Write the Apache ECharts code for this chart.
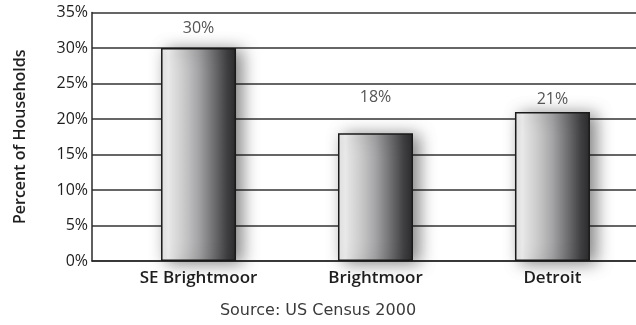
<!DOCTYPE html>
<html>
<head>
<meta charset="utf-8">
<script src="https://cdn.jsdelivr.net/npm/echarts@6/dist/echarts.min.js"></script>
<style>
  html, body { margin: 0; padding: 0; background: #fff; }
  #chart { width: 636px; height: 325px; }
</style>
</head>
<body>
<div id="chart"></div>
<script>
// Share of households by area
const categories = ['SE Brightmoor', 'Brightmoor', 'Detroit'];
const percentValues = [30, 18, 21];
const yTicks = [0, 5, 10, 15, 20, 25, 30, 35];
const sourceNote = 'Source: US Census 2000';

// Space between each value label and the top of its bar (px)
const labelGap = [12, 28, 4];

const chart = echarts.init(document.getElementById('chart'), null, { renderer: 'canvas' });

const barFill = new echarts.graphic.LinearGradient(0, 0, 1, 0, [
  { offset: 0, color: '#e6e6e6' },
  { offset: 0.1, color: '#f3f3f3' },
  { offset: 0.5, color: '#a4a4a6' },
  { offset: 0.88, color: '#404042' },
  { offset: 1, color: '#2c2c2e' }
]);

const seriesData = percentValues.map((v, i) => ({
  value: [i, v],
  label: { distance: labelGap[i] }
}));

chart.setOption({
  animation: false,
  backgroundColor: '#ffffff',
  grid: { left: 92, right: 0, top: 12.5, bottom: 64, containLabel: false },
  xAxis: {
    type: 'value',
    min: -0.602,
    max: 2.472,
    splitLine: { show: false },
    axisLine: { show: true, onZero: false, lineStyle: { color: '#2a2a2a', width: 1.5 } },
    axisTick: { show: false },
    axisLabel: {
      customValues: [0, 1, 2],
      formatter: (v) => categories[Math.round(v)],
      margin: 9,
      fontFamily: 'Open Sans',
      fontSize: 17,
      fontWeight: 600,
      color: '#1e1e1e'
    }
  },
  yAxis: {
    type: 'value',
    min: 0,
    max: 35,
    interval: 5,
    name: 'Percent of Households',
    nameLocation: 'middle',
    nameGap: 64,
    nameTextStyle: { fontFamily: 'Open Sans', fontSize: 16, fontWeight: 600, color: '#1e1e1e' },
    axisLine: { show: true, onZero: false, lineStyle: { color: '#2a2a2a', width: 1.5 } },
    axisTick: { show: false },
    splitLine: { show: true, lineStyle: { color: '#333333', width: 1.5 } },
    axisLabel: {
      customValues: yTicks,
      formatter: (v) => v + '%',
      margin: 4,
      fontFamily: 'Open Sans',
      fontSize: 16,
      color: '#1e1e1e'
    }
  },
  series: [{
    type: 'bar',
    barWidth: 75,
    data: seriesData,
    itemStyle: {
      color: barFill,
      borderColor: '#1a1a1a',
      borderWidth: 1.5,
      shadowBlur: 16,
      shadowOffsetX: 6,
      shadowOffsetY: 2,
      shadowColor: 'rgba(0,0,0,0.5)'
    },
    label: {
      show: true,
      position: 'top',
      formatter: (p) => p.value[1] + '%',
      fontFamily: 'Open Sans',
      fontSize: 16,
      color: '#555555'
    }
  }],
  graphic: [{
    type: 'text',
    left: 'center',
    top: 303,
    style: {
      text: sourceNote,
      fontFamily: 'DejaVu Sans',
      fontSize: 16,
      fill: '#3a3a3a'
    }
  }]
});
</script>
</body>
</html>
